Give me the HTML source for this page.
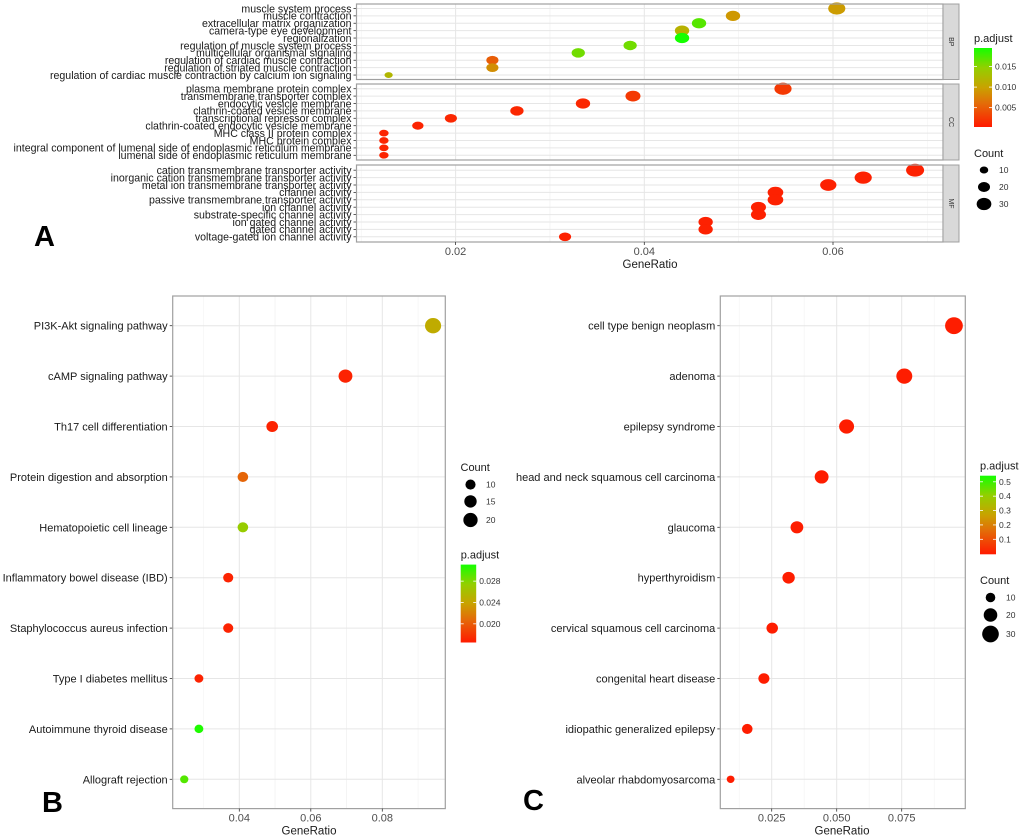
<!DOCTYPE html>
<html><head><meta charset="utf-8"><style>
html,body{margin:0;padding:0;background:#fff;}
svg{display:block;font-family:"Liberation Sans",Arial,sans-serif;}
</style></head><body>
<svg id="fig" width="1020" height="837" viewBox="0 0 1020 837" xmlns="http://www.w3.org/2000/svg">
<defs>
<linearGradient id="gradRG" x1="0" y1="1" x2="0" y2="0">
<stop offset="0" stop-color="#ff1a00"/><stop offset="0.3" stop-color="#e36c08"/><stop offset="0.5" stop-color="#c9a200"/><stop offset="0.75" stop-color="#93cf00"/><stop offset="1" stop-color="#14ff00"/>
</linearGradient>
</defs>
<g id="root"></g>
</svg>
<script>
// ---------- Panel A data ----------
const bpTerms=["muscle system process","muscle contraction","extracellular matrix organization","camera-type eye development","regionalization","regulation of muscle system process","multicellular organismal signaling","regulation of cardiac muscle contraction","regulation of striated muscle contraction","regulation of cardiac muscle contraction by calcium ion signaling"];
const bpRatio=[0.0604,0.0494,0.0458,0.0440,0.0440,0.0385,0.0330,0.0239,0.0239,0.0129];
const bpCount=[30,21,21,21,21,18,18,15,15,7];
const bpPadj=[0.0095,0.0092,0.0170,0.0115,0.0195,0.0160,0.0160,0.0050,0.0085,0.0120];
const ccTerms=["plasma membrane protein complex","transmembrane transporter complex","endocytic vesicle membrane","clathrin-coated vesicle membrane","transcriptional repressor complex","clathrin-coated endocytic vesicle membrane","MHC class II protein complex","MHC protein complex","integral component of lumenal side of endoplasmic reticulum membrane","lumenal side of endoplasmic reticulum membrane"];
const ccRatio=[0.0547,0.0388,0.0335,0.0265,0.0195,0.0160,0.0124,0.0124,0.0124,0.0124];
const ccCount=[30,23,21,18,15,13,9,9,9,9];
const ccPadj=[0.0025,0.0025,0.0012,0.0012,0.0012,0.0010,0.0010,0.0010,0.0010,0.0010];
const mfTerms=["cation transmembrane transporter activity","inorganic cation transmembrane transporter activity","metal ion transmembrane transporter activity","channel activity","passive transmembrane transporter activity","ion channel activity","substrate-specific channel activity","ion gated channel activity","gated channel activity","voltage-gated ion channel activity"];
const mfRatio=[0.0687,0.0632,0.0595,0.0539,0.0539,0.0521,0.0521,0.0465,0.0465,0.0316];
const mfCount=[33,30,27,25,25,23,23,21,21,15];
const mfPadj=[0.0008,0.0008,0.0008,0.0008,0.0008,0.0008,0.0008,0.0008,0.0008,0.0008];
const aTicks=[0.02,0.04,0.06];
const aColorTicks=[0.005,0.010,0.015];
const aCountTicks=[10,20,30];
// ---------- Panel B data ----------
const bTerms=["PI3K-Akt signaling pathway","cAMP signaling pathway","Th17 cell differentiation","Protein digestion and absorption","Hematopoietic cell lineage","Inflammatory bowel disease (IBD)","Staphylococcus aureus infection","Type I diabetes mellitus","Autoimmune thyroid disease","Allograft rejection"];
const bRatio=[0.0942,0.0697,0.0492,0.0410,0.0410,0.0369,0.0369,0.0287,0.0287,0.0246];
const bCount=[23,17,12,10,10,9,9,7,7,6];
const bPadj=[0.0245,0.0170,0.0170,0.0205,0.0272,0.0170,0.0170,0.0170,0.0308,0.0293];
const bTicks=[0.04,0.06,0.08];
const bColorTicks=[0.020,0.024,0.028];
const bCountTicks=[10,15,20];
// ---------- Panel C data ----------
const cTerms=["cell type benign neoplasm","adenoma","epilepsy syndrome","head and neck squamous cell carcinoma","glaucoma","hyperthyroidism","cervical squamous cell carcinoma","congenital heart disease","idiopathic generalized epilepsy","alveolar rhabdomyosarcoma"];
const cRatio=[0.0951,0.0760,0.0538,0.0442,0.0347,0.0315,0.0252,0.0220,0.0156,0.0092];
const cCount=[31,25,22,19,16,15,13,12,11,6];
const cPadj=[0.010,0.010,0.010,0.010,0.010,0.010,0.010,0.010,0.010,0.010];
const cTicks=[0.025,0.050,0.075];
const cColorTicks=[0.1,0.2,0.3,0.4,0.5];
const cCountTicks=[10,20,30];

const NS="http://www.w3.org/2000/svg";
const root=document.getElementById('root');
function mk(tag,attrs,parent,text){const e=document.createElementNS(NS,tag);for(const k in attrs)e.setAttribute(k,attrs[k]);if(text!==undefined)e.textContent=text;(parent||root).appendChild(e);return e;}
function hex(c){return [parseInt(c.slice(1,3),16),parseInt(c.slice(3,5),16),parseInt(c.slice(5,7),16)];}
const stops=[[0,"#ff1a00"],[0.3,"#e36c08"],[0.5,"#c9a200"],[0.75,"#93cf00"],[1,"#14ff00"]];
function colorAt(t){t=Math.max(0,Math.min(1,t));for(let i=1;i<stops.length;i++){if(t<=stops[i][0]){const a=stops[i-1],b=stops[i];const f=(t-a[0])/(b[0]-a[0]);const ca=hex(a[1]),cb=hex(b[1]);return "rgb("+ca.map((v,j)=>Math.round(v+(cb[j]-v)*f)).join(",")+")";}}return stops[stops.length-1][1];}

function linear(d0,d1,r0,r1){return v=>r0+(v-d0)/(d1-d0)*(r1-r0);}

function panel(o){
  const g=mk('g',{},root);
  
  
  mk('rect',{x:o.x0,y:o.y0,width:o.x1-o.x0,height:o.y1-o.y0,fill:'#fff'},g);
  for(let i=0;i<o.ticks.length;i++){const t=o.ticks[i];const step=(o.ticks[1]-o.ticks[0])/2;
    [t-step,t+step].forEach(m=>{const xm=o.sx(m);if(xm>o.x0&&xm<o.x1)mk('line',{x1:xm,x2:xm,y1:o.y0,y2:o.y1,stroke:'#f3f3f3','stroke-width':0.6},g);});}
  o.ticks.forEach(t=>{const xx=o.sx(t);const l=mk('line',{x1:xx,x2:xx,y1:o.y0,y2:o.y1,stroke:'#e6e6e6','stroke-width':1},g);});
  o.terms.forEach((term,i)=>{const yy=o.sy(i);
    mk('line',{x1:o.x0,x2:o.x1,y1:yy,y2:yy,stroke:'#e6e6e6','stroke-width':1},g);
    mk('line',{x1:o.x0-3,x2:o.x0,y1:yy,y2:yy,stroke:'#333','stroke-width':0.8},g);
    const lab=mk('text',{x:o.x0-5,y:yy+o.fs*0.36,'text-anchor':'end','font-size':o.fs,fill:'#1a1a1a'},g,term);
    
    
  });
  o.terms.forEach((term,i)=>{const r=o.rs(o.count[i]);
    const c=mk('ellipse',{cx:o.sx(o.ratio[i]),cy:o.sy(i),rx:r*o.aspect,ry:r,fill:colorAt(o.cs(o.padj[i]))},g);
    
    
  });
  mk('rect',{x:o.x0,y:o.y0,width:o.x1-o.x0,height:o.y1-o.y0,fill:'none',stroke:'#a0a0a0','stroke-width':1.2},g);
  return g;
}
function xAxis(o){
  o.ticks.forEach(t=>{const xx=o.sx(t);
    mk('line',{x1:xx,x2:xx,y1:o.y,y2:o.y+3,stroke:'#333','stroke-width':0.8});
    const tl=mk('text',{x:xx,y:o.y+13,'text-anchor':'middle','font-size':11,fill:'#4d4d4d'},root,o.fmt(t));
    
    
  });
  const at=mk('text',{x:o.cx,y:o.y+26,'text-anchor':'middle','font-size':11.5,fill:'#1a1a1a'},root,'GeneRatio');
  
  
}
function colorbar(o){
  const t=mk('text',{x:o.x,y:o.y0-6,'font-size':11,fill:'#1a1a1a'},root,'p.adjust');
  
  
  const bar=mk('rect',{x:o.x,y:o.y0,width:o.w,height:o.y1-o.y0,fill:'url(#gradRG)'});
  
  
  o.ticks.forEach(v=>{const yy=o.sc(v);
    mk('line',{x1:o.x,x2:o.x+3,y1:yy,y2:yy,stroke:'#fff','stroke-width':0.8});
    mk('line',{x1:o.x+o.w-3,x2:o.x+o.w,y1:yy,y2:yy,stroke:'#fff','stroke-width':0.8});
    const l=mk('text',{x:o.x+o.w+3,y:yy+3,'font-size':8.5,fill:'#333'},root,o.fmt(v));
    
    
  });
}
function sizeLegend(o){
  const t=mk('text',{x:o.x,y:o.ty,'font-size':11,fill:'#1a1a1a'},root,'Count');
  
  
  o.vals.forEach((v,i)=>{const yy=o.ys[i];const r=o.rs(v);
    const d=mk('ellipse',{cx:o.dx,cy:yy,rx:r*o.aspect,ry:r,fill:'#000'});
    
    
    const l=mk('text',{x:o.lx,y:yy+3,'font-size':8.5,fill:'#333'},root,String(v));
    
    
  });
}

// ----- Panel A -----
const aSx=linear(0.02,0.06,455.6,833);
const aCs=linear(0.0003,0.0195,0,1);
const aRs=c=>Math.sqrt(c)*1.12;
const facets=[["BP",bpTerms,bpRatio,bpCount,bpPadj,4,79.5],["CC",ccTerms,ccRatio,ccCount,ccPadj,84,160],["MF",mfTerms,mfRatio,mfCount,mfPadj,165,242]];
facets.forEach(f=>{
  const y0=f[5],y1=f[6];const n=f[1].length;
  const pad=(y1-y0-(n-1)*7.4)/2;
  const sy=i=>y0+pad+i*7.4;
  panel({name:'panel-a-'+f[0].toLowerCase(),x0:356.5,x1:943,y0:y0,y1:y1,sx:aSx,sy:sy,cs:aCs,rs:aRs,aspect:1.4,fs:10.6,ticks:aTicks,terms:f[1],ratio:f[2],count:f[3],padj:f[4]});
  const s=mk('rect',{x:943,y:y0,width:16,height:y1-y0,fill:'#d9d9d9',stroke:'#a0a0a0','stroke-width':1});
  
  
  const cy=(y0+y1)/2;
  mk('text',{x:951,y:cy,'font-size':7,fill:'#333','text-anchor':'middle',transform:'rotate(90 951 '+cy+')','dominant-baseline':'middle'},root,f[0]);
});
xAxis({ticks:aTicks,sx:aSx,y:242,cx:650,fmt:v=>v.toFixed(2)});
colorbar({x:974,w:18,y0:48,y1:127,sc:v=>linear(0.0003,0.0195,127,48)(v),ticks:aColorTicks,fmt:v=>v.toFixed(3)});
sizeLegend({x:974,ty:157,dx:984,lx:999,ys:[170,187,204],vals:aCountTicks,rs:aRs,aspect:1.2});
mk('text',{x:34,y:246,'font-size':29,'font-weight':'bold',fill:'#000'},root,'A');

// ----- Panel B -----
const bSx=linear(0.04,0.08,239.3,382.3);
const bCs=linear(0.0165,0.0311,0,1);
const bRs=c=>Math.sqrt(c)*1.6;
const bSy=i=>325.7+i*50.4;
panel({name:'panel-b',x0:172.7,x1:445.3,y0:296,y1:808.6,sx:bSx,sy:bSy,cs:bCs,rs:bRs,aspect:1.05,fs:11,ticks:bTicks,terms:bTerms,ratio:bRatio,count:bCount,padj:bPadj});
xAxis({ticks:bTicks,sx:bSx,y:808.6,cx:309,fmt:v=>v.toFixed(2)});
sizeLegend({x:460.5,ty:471,dx:470.5,lx:486,ys:[484.6,501.4,520],vals:bCountTicks,rs:bRs,aspect:1});
colorbar({x:460.7,w:15.5,y0:564.6,y1:642.5,sc:v=>linear(0.0165,0.0311,642.5,564.6)(v),ticks:bColorTicks,fmt:v=>v.toFixed(3)});
mk('text',{x:42,y:812,'font-size':29,'font-weight':'bold',fill:'#000'},root,'B');

// ----- Panel C -----
const cSx=linear(0.025,0.075,771.7,901.7);
const cCs=linear(0.005,0.54,0,1);
const cRs=c=>Math.sqrt(c)*1.52;
panel({name:'panel-c',x0:720.3,x1:965.3,y0:296,y1:808.6,sx:cSx,sy:bSy,cs:cCs,rs:cRs,aspect:1.05,fs:11,ticks:cTicks,terms:cTerms,ratio:cRatio,count:cCount,padj:cPadj});
xAxis({ticks:cTicks,sx:cSx,y:808.6,cx:842,fmt:v=>v.toFixed(3)});
colorbar({x:980,w:16,y0:475.7,y1:554.3,sc:v=>linear(0.1,0.5,539.3,481.8)(v),ticks:cColorTicks,fmt:v=>v.toFixed(1)});
sizeLegend({x:980,ty:584,dx:990.5,lx:1006,ys:[597.5,615,634],vals:cCountTicks,rs:cRs,aspect:1});
mk('text',{x:523,y:810,'font-size':29,'font-weight':'bold',fill:'#000'},root,'C');
</script>
</body></html>
